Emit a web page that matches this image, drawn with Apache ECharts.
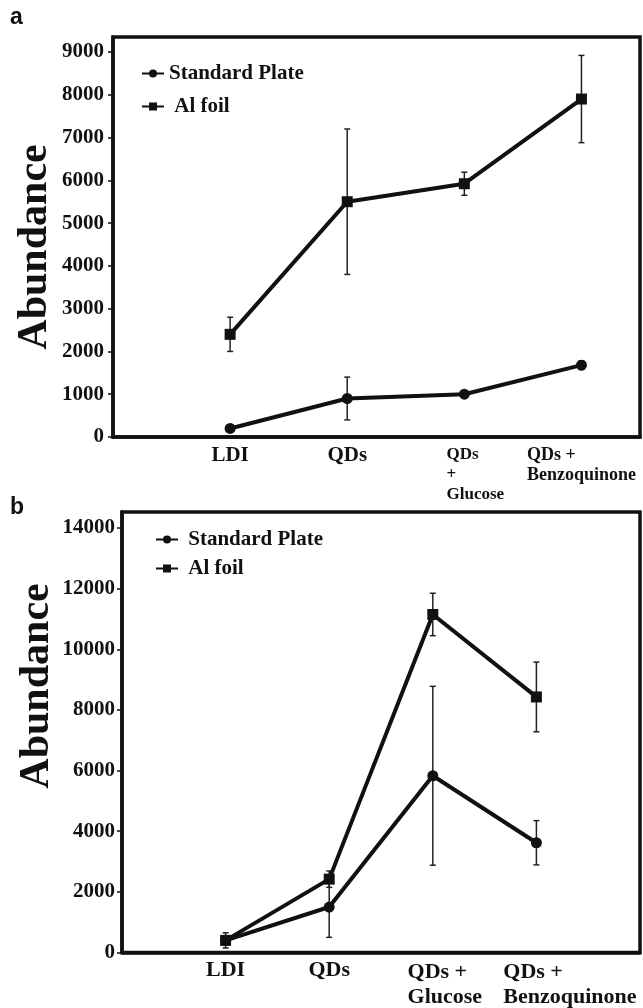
<!DOCTYPE html>
<html>
<head>
<meta charset="utf-8">
<script src="https://cdn.jsdelivr.net/npm/echarts@6/dist/echarts.min.js"></script>
<style>
html,body{margin:0;padding:0;background:#fff;}
#chart{width:643px;height:1008px;}
</style>
</head>
<body>
<div id="chart"></div>
<script>
// ---- data ----
const categories = ['LDI', 'QDs', 'QDs + Glucose', 'QDs + Benzoquinone'];
const xPos = [1, 2, 3, 4];
const seriesNames = ['Standard Plate', 'Al foil'];

// panel a
const aStdPlate = [200, 900, 1000, 1680];
const aStdPlateErr = [0, 500, 0, 100];
const aAlFoil = [2400, 5500, 5920, 7900];
const aAlFoilErr = [400, 1700, 270, 1020];
const aYTicks = [0, 1000, 2000, 3000, 4000, 5000, 6000, 7000, 8000, 9000];

// panel b
const bStdPlate = [400, 1500, 5830, 3620];
const bStdPlateErr = [250, 1000, 2950, 730];
const bAlFoil = [400, 2420, 11150, 8430];
const bAlFoilErr = [150, 270, 700, 1150];
const bYTicks = [0, 2000, 4000, 6000, 8000, 10000, 12000, 14000];

const ink = '#111';
const serif = '"Liberation Serif", "Times New Roman", serif';

function pts(vals) { return vals.map((v, i) => [xPos[i], v]); }
function errPts(vals, errs) { return vals.map((v, i) => [xPos[i], v, errs[i]]); }

function errRender(params, api) {
  const x = api.value(0), v = api.value(1), e = api.value(2);
  if (!e) return null;
  const t = api.coord([x, v + e]);
  const b = api.coord([x, v - e]);
  const c = 3;
  const st = { stroke: '#222', lineWidth: 1.5 };
  return {
    type: 'group',
    children: [
      { type: 'line', shape: { x1: t[0], y1: t[1], x2: b[0], y2: b[1] }, style: st },
      { type: 'line', shape: { x1: t[0] - c, y1: t[1], x2: t[0] + c, y2: t[1] }, style: st },
      { type: 'line', shape: { x1: b[0] - c, y1: b[1], x2: b[0] + c, y2: b[1] }, style: st }
    ]
  };
}

function lineSeries(name, data, symbol, gi) {
  return {
    type: 'line', name: name, data: data, xAxisIndex: gi, yAxisIndex: gi,
    symbol: symbol, symbolSize: 11,
    lineStyle: { color: ink, width: 4 },
    itemStyle: { color: ink },
    z: 3, animation: false
  };
}
function errSeries(data, gi) {
  return {
    type: 'custom', data: data, xAxisIndex: gi, yAxisIndex: gi,
    renderItem: errRender, z: 2, animation: false, silent: true,
    encode: { x: 0, y: 1 }
  };
}

const labelRichA = {
  big: { fontFamily: serif, fontWeight: 'bold', fontSize: 21, color: ink },
  g: { fontFamily: serif, fontWeight: 'bold', fontSize: 17, color: ink, align: 'left', padding: [0, 0, 0, 22], lineHeight: 20 },
  bz: { fontFamily: serif, fontWeight: 'bold', fontSize: 18, color: ink, align: 'left', lineHeight: 20 }
};
const labelRichB = {
  big: { fontFamily: serif, fontWeight: 'bold', fontSize: 22, color: ink },
  g: { fontFamily: serif, fontWeight: 'bold', fontSize: 22, color: ink, align: 'left', padding: [0, 0, 0, 24], lineHeight: 25 },
  bz: { fontFamily: serif, fontWeight: 'bold', fontSize: 22, color: ink, align: 'left', padding: [0, 0, 0, 67], lineHeight: 25 }
};

function fmtA(v) {
  if (v === 1) return '{big|' + categories[0] + '}';
  if (v === 2) return '{big|' + categories[1] + '}';
  if (v === 3) return '{g|QDs}\n{g|+}\n{g|Glucose}';
  if (v === 4) return '{bz|QDs +}\n{bz|Benzoquinone}';
  return '';
}
function fmtB(v) {
  if (v === 1) return '{big|' + categories[0] + '}';
  if (v === 2) return '{big|' + categories[1] + '}';
  if (v === 3) return '{g|QDs +}\n{g|Glucose}';
  if (v === 4) return '{bz|QDs +}\n{bz|Benzoquinone}';
  return '';
}

function yAxisCfg(gi, ticks, max, margin) {
  return {
    type: 'value', gridIndex: gi, min: ticks[0], max: max,
    interval: ticks[1] - ticks[0],
    axisLine: { show: true, lineStyle: { color: ink, width: 3.5 } },
    axisTick: { show: true, length: 5, lineStyle: { color: ink, width: 1.5 } },
    axisLabel: { show: true, showMaxLabel: false, margin: margin, color: ink,
      fontFamily: serif, fontWeight: 'bold', fontSize: 21,
      formatter: v => (ticks.indexOf(v) >= 0 ? String(v) : '') },
    splitLine: { show: false }
  };
}
function xAxisCfg(gi, max, fmt, rich, margin) {
  return {
    type: 'value', gridIndex: gi, min: 0, max: max, interval: 1,
    axisLine: { show: true, lineStyle: { color: ink, width: 3.5 } },
    axisTick: { show: false },
    axisLabel: { show: true, formatter: fmt, rich: rich, margin: margin,
      showMinLabel: true, showMaxLabel: true, hideOverlap: false },
    splitLine: { show: false }
  };
}

const legendBase = {
  orient: 'vertical', itemWidth: 22, itemHeight: 10,
  textStyle: { fontFamily: serif, fontWeight: 'bold', fontSize: 21, color: ink },
  lineStyle: { width: 2 },
  data: seriesNames,
  selectedMode: false
};

const option = {
  backgroundColor: '#fff',
  animation: false,
  grid: [
    { left: 113, top: 37, right: 3, height: 400, show: true, borderColor: ink, borderWidth: 3.5 },
    { left: 122, top: 512, right: 3, height: 447, show: true, borderColor: ink, borderWidth: 3.5 }
  ],
  xAxis: [
    xAxisCfg(0, 4.5, fmtA, labelRichA, 8),
    xAxisCfg(1, 5, fmtB, labelRichB, 7)
  ],
  yAxis: [
    yAxisCfg(0, aYTicks, 9350, 9),
    yAxisCfg(1, bYTicks, 14530, 7)
  ],
  legend: [
    Object.assign({}, legendBase, { left: 136, top: 58, itemGap: 12,
      formatter: n => n === 'Al foil' ? ' Al foil' : n }),
    Object.assign({}, legendBase, { left: 150, top: 524, itemGap: 8,
      formatter: n => n === 'Al foil' ? ' Al foil' : ' ' + n })
  ],
  graphic: [
    { type: 'text', left: 10, top: 6, style: { text: 'a', font: 'bold 23px "Liberation Sans", Arial, sans-serif', fill: ink } },
    { type: 'text', left: 10, top: 496, style: { text: 'b', font: 'bold 23px "Liberation Sans", Arial, sans-serif', fill: ink } },
    { type: 'text', x: 35, y: 247, rotation: Math.PI / 2,
      style: { text: 'Abundance', font: 'bold 42px ' + serif, fill: ink, align: 'center', verticalAlign: 'middle' } },
    { type: 'text', x: 37, y: 686, rotation: Math.PI / 2,
      style: { text: 'Abundance', font: 'bold 42px ' + serif, fill: ink, align: 'center', verticalAlign: 'middle' } }
  ],
  series: [
    errSeries(errPts(aStdPlate, aStdPlateErr), 0),
    errSeries(errPts(aAlFoil, aAlFoilErr), 0),
    lineSeries(seriesNames[0], pts(aStdPlate), 'circle', 0),
    lineSeries(seriesNames[1], pts(aAlFoil), 'rect', 0),
    errSeries(errPts(bStdPlate, bStdPlateErr), 1),
    errSeries(errPts(bAlFoil, bAlFoilErr), 1),
    lineSeries(seriesNames[0], pts(bStdPlate), 'circle', 1),
    lineSeries(seriesNames[1], pts(bAlFoil), 'rect', 1)
  ]
};

const chart = echarts.init(document.getElementById('chart'), null, { renderer: 'canvas' });
chart.setOption(option);
</script>
</body>
</html>
